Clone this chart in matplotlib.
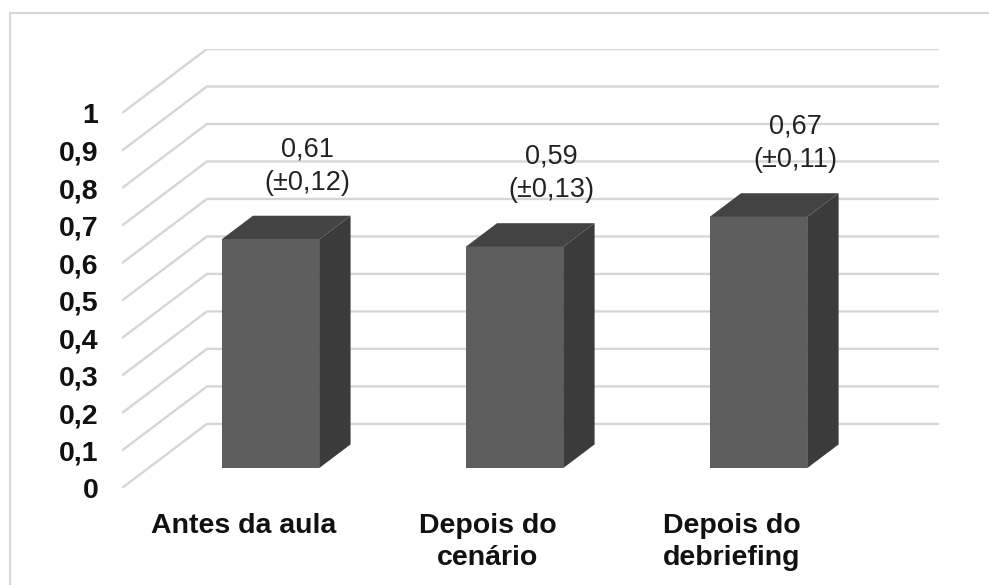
import matplotlib
matplotlib.use("Agg")
import matplotlib.pyplot as plt
from matplotlib.patches import Polygon, Rectangle

# Dados do gráfico
categorias = ["Antes da aula", "Depois do\ncenário", "Depois do\ndebriefing"]
medias = [0.61, 0.59, 0.67]
desvios = [0.12, 0.13, 0.11]
ticks_y = [0, 0.1, 0.2, 0.3, 0.4, 0.5, 0.6, 0.7, 0.8, 0.9, 1]

# Projeção oblíqua (efeito 3D) em unidades de dados
DX, DY = 0.348, 0.171
D0, D1 = 0.31, 0.68   # profundidade da frente e do fundo das barras
MEIA_LARG = 0.2

COR_FRENTE = "#5e5e5e"
COR_LADO = "#3b3b3b"
COR_TOPO = "#434343"
COR_GRADE = "#d6d6d6"


def proj(x, v, d):
    return (x + DX * d, v + DY * d)


def virgula(v, casas=2):
    return f"{v:.{casas}f}".replace(".", ",")


plt.rcParams["font.family"] = ["Liberation Sans", "DejaVu Sans"]

W, H = 989, 585
fig = plt.figure(figsize=(W / 100, H / 100), dpi=100)
fig.patch.set_facecolor("white")

# borda externa do gráfico
fig.patches.append(Rectangle((10 / W, -0.1), 1.2, 1 - 13 / H + 0.1,
                             transform=fig.transFigure, fill=False,
                             edgecolor="#d6d6d6", linewidth=1.5))

esq, dir_, topo, base = 122, 939, 49, 488
ax = fig.add_axes([esq / W, (H - base) / H, (dir_ - esq) / W, (base - topo) / H])
ax.set_xlim(-0.5, 2.5 + DX)
ax.set_ylim(0, 1 + DY)
for s in ax.spines.values():
    s.set_visible(False)

# linhas de grade (parede lateral + fundo)
for v in ticks_y:
    p0 = proj(-0.5, v, 0)
    p1 = proj(-0.5, v, 1)
    p2 = proj(2.5, v, 1)
    ax.plot([p0[0], p1[0], p2[0]], [p0[1], p1[1], p2[1]],
            color=COR_GRADE, linewidth=1.7, zorder=1, solid_capstyle="butt")

# barras 3D
for i, (m, sd) in enumerate(zip(medias, desvios)):
    x0, x1 = i - MEIA_LARG, i + MEIA_LARG
    frente = [proj(x0, 0, D0), proj(x1, 0, D0), proj(x1, m, D0), proj(x0, m, D0)]
    lado = [proj(x1, 0, D0), proj(x1, 0, D1), proj(x1, m, D1), proj(x1, m, D0)]
    topo_ = [proj(x0, m, D0), proj(x1, m, D0), proj(x1, m, D1), proj(x0, m, D1)]
    ax.add_patch(Polygon(lado, closed=True, facecolor=COR_LADO, edgecolor="none", zorder=3))
    ax.add_patch(Polygon(topo_, closed=True, facecolor=COR_TOPO, edgecolor="none", zorder=3))
    ax.add_patch(Polygon(frente, closed=True, facecolor=COR_FRENTE, edgecolor="none", zorder=4))
    ax.text(i + 0.26, m + DY * D0 + 0.196,
            f"{virgula(m)}\n(±{virgula(sd)})",
            ha="center", va="center", fontsize=19.5, color="#222222",
            linespacing=1.38, zorder=5)

ax.set_yticks(ticks_y)
ax.set_yticklabels([virgula(v, 1) if v not in (0, 1) else str(int(v)) for v in ticks_y],
                   fontsize=20.5, fontweight="bold")
ax.set_xticks(range(len(categorias)))
ax.set_xticklabels(categorias, fontsize=20.5, fontweight="bold", linespacing=1.32)
ax.tick_params(axis="y", length=0, pad=17, colors="#111111")
ax.tick_params(axis="x", length=0, pad=18, colors="#111111")

fig.savefig("out.png", dpi=100)
